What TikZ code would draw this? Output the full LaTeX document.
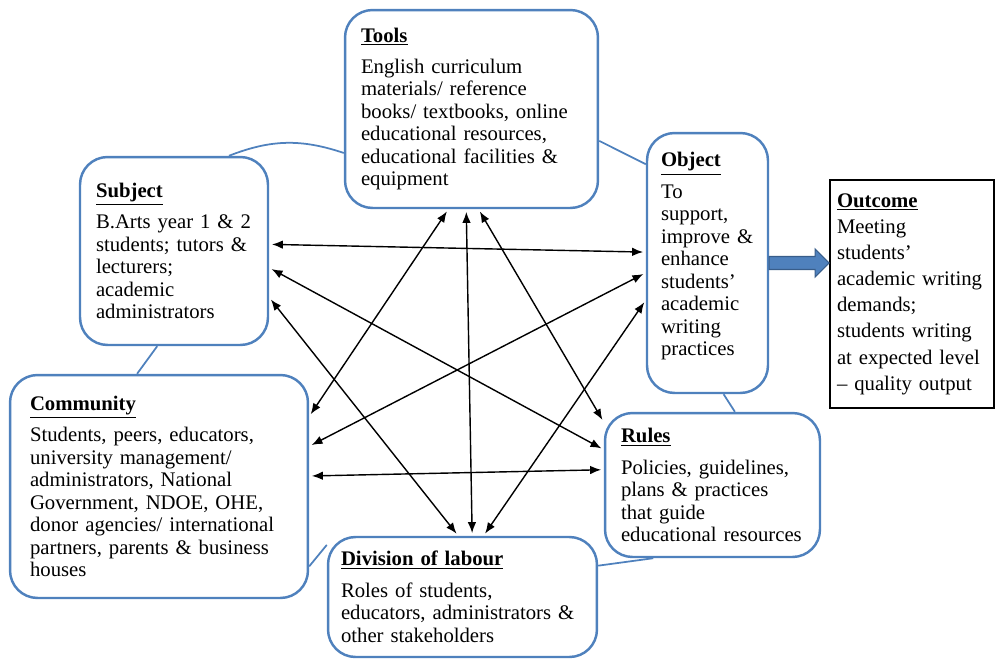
\documentclass[tikz,border=0pt]{standalone}
\usepackage{fontspec}
\setmainfont{Liberation Serif}
\usetikzlibrary{arrows.meta,calc,backgrounds}
\definecolor{ringblue}{RGB}{79,129,189}
\definecolor{arrowdark}{RGB}{56,93,138}
\newcommand{\BoxTitle}[1]{\underline{\textbf{#1}}\\[0.18cm]}

\begin{document}
\begin{tikzpicture}[x=0.02cm, y=-0.02cm,
  actbox/.style={draw=ringblue, line width=1.4pt, rounded corners=0.55cm, fill=white,
    align=left, inner xsep=0.32cm, font=\fontsize{11.8}{12.8}\selectfont},
  outbox/.style={draw=black, line width=1.1pt, fill=white, align=left, inner xsep=0.14cm},
  ring/.style={draw=ringblue, line width=1pt},
  link/.style={{Latex[length=0.22cm,width=0.17cm]}-{Latex[length=0.22cm,width=0.17cm]},
    line width=0.8pt, shorten <=1.5pt, shorten >=1.5pt}]
  \useasboundingbox (0,0) rectangle (995,660);

  \node[actbox, text width=4.42cm, minimum height=3.96cm] (tools) at (471.5,109)
  {\BoxTitle{Tools}English curriculum\\ materials/ reference\\ books/ textbooks, online\\
    educational resources,\\ educational facilities \&\\ equipment};
  \node[actbox, text width=3.12cm, minimum height=3.76cm] (subject) at (174,251)
  {\BoxTitle{Subject}B.Arts year 1 \& 2\\ students; tutors \&\\ lecturers;\\ academic\\
    administrators};
  \node[actbox, inner xsep=0.28cm, text width=1.86cm, minimum height=5.2cm] (object)
  at (707.5,263)
  {\BoxTitle{Object}To\\ support,\\ improve \&\\ enhance\\ students’\\ academic\\ writing\\
    practices\\[-0.1cm]\mbox{}};
  \node[outbox, text width=3.0cm, minimum height=4.56cm,
  font=\fontsize{11.8}{14.9}\selectfont] (outcome) at (912,294)
  {\underline{\textbf{Outcome}}\\ Meeting\\ students’\\ \mbox{academic writing}\\ demands;\\
    \mbox{students writing}\\ \mbox{at expected level}\\ \mbox{– quality output}};
  \node[actbox, inner xsep=0.4cm, text width=5.16cm, minimum height=4.46cm] (community)
  at (159,486.5)
  {\BoxTitle{Community}Students, peers, educators,\\ university management/\\
    administrators, National\\ Government, NDOE, OHE,\\ donor agencies/ international\\
    partners, parents \& business\\ houses};
  \node[actbox, text width=3.66cm, minimum height=2.88cm] (rules) at (712.5,485)
  {\BoxTitle{Rules}Policies, guidelines,\\ plans \& practices\\ that guide\\
    educational resources};
  \node[actbox, inner xsep=0.26cm, text width=4.86cm, minimum height=2.4cm] (labour)
  at (462.5,597)
  {\BoxTitle{Division of labour}Roles of students,\\ educators, administrators \&\\
    other stakeholders};

  % ring of the activity system behind the boxes
  \begin{pgfonlayer}{background}
    \foreach \a/\b/\bb in {subject.60/tools.199/20, tools.-14/object.122/0,
      object.-83/rules.73/0, labour.13/rules.-129/0, community.-28/labour.159/0,
      subject.-100/community.101/0}
      \draw[ring] (\a) to[bend left=\bb] (\b);
  \end{pgfonlayer}

  \foreach \a/\b in {subject.4/object.170, subject.-10/rules.162, subject.-26/labour.94,
    tools.-103/community.25, tools.-93/labour.81, tools.-86/rules.150,
    object.189/community.15, object.211/labour.71, community.4/rules.172}
    \draw[link] (\a) -- (\b);

  % block arrow to the outcome
  \draw[draw=arrowdark, fill=ringblue, line width=0.6pt]
  ($(object.east)+(0,-6.5)$) -- ($(object.east -| outcome.west)+(-14,-6.5)$) -- ++(0,-7.5)
  -- (object.east -| outcome.west) -- ($(object.east -| outcome.west)+(-14,14)$)
  -- ++(0,-7.5) -- ($(object.east)+(0,6.5)$) -- cycle;
\end{tikzpicture}
\end{document}
